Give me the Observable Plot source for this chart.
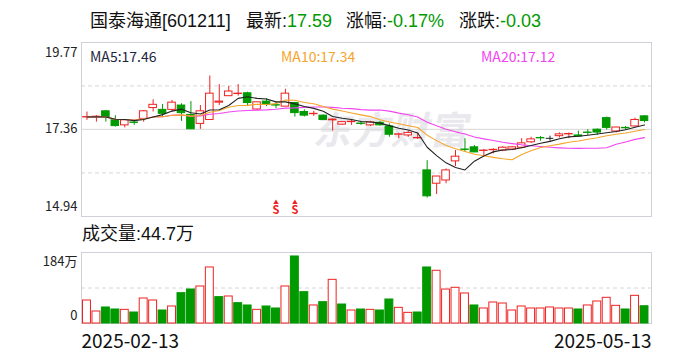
<!DOCTYPE html>
<html><head><meta charset="utf-8">
<script src="https://cdn.jsdelivr.net/npm/d3@7"></script>
<script src="https://cdn.jsdelivr.net/npm/@observablehq/plot@0.6"></script>
<style>
body{margin:0;background:#fff;font-family:"Noto Sans CJK SC","Noto Sans",sans-serif;}
#wrap{position:relative;width:688px;height:360px;overflow:hidden;background:#fff;}
.t{position:absolute;white-space:nowrap;line-height:20px;}
.hd{font-family:"Liberation Sans","Noto Sans CJK SC",sans-serif;}
.abs{position:absolute;left:0;}
</style></head><body><div id="wrap"></div>
<script>
// ---- data ----
const stockName = "国泰海通[601211]";
const dates = ["2025-02-13","2025-02-14","2025-02-17","2025-02-18","2025-02-19","2025-02-20","2025-02-21","2025-02-24","2025-02-25","2025-02-26","2025-02-27","2025-02-28",
"2025-03-03","2025-03-04","2025-03-05","2025-03-06","2025-03-07","2025-03-10","2025-03-11","2025-03-12","2025-03-13","2025-03-14","2025-03-17","2025-03-18","2025-03-19","2025-03-20","2025-03-21","2025-03-24","2025-03-25","2025-03-26","2025-03-27","2025-03-28","2025-03-31",
"2025-04-01","2025-04-02","2025-04-03","2025-04-07","2025-04-08","2025-04-09","2025-04-10","2025-04-11","2025-04-14","2025-04-15","2025-04-16","2025-04-17","2025-04-18","2025-04-21","2025-04-22","2025-04-23","2025-04-24","2025-04-25","2025-04-28","2025-04-29","2025-04-30",
"2025-05-06","2025-05-07","2025-05-08","2025-05-09","2025-05-12","2025-05-13"];
const open = [17.69,17.70,17.86,17.61,17.47,17.55,17.65,17.95,17.90,17.90,
18.02,17.76,17.51,17.62,18.10,18.28,18.34,18.36,17.91,18.13,
18.03,17.99,18.09,17.84,17.78,17.74,17.61,17.49,17.56,17.52,
17.47,17.54,17.44,17.21,17.19,17.11,16.22,15.85,15.94,16.47,
16.80,16.86,16.76,16.78,16.77,16.80,16.85,17.00,17.12,17.11,
17.17,17.22,17.19,17.27,17.35,17.67,17.30,17.40,17.44,17.72];
const close = [17.70,17.71,17.70,17.45,17.61,17.54,17.86,18.04,17.79,18.10,
17.81,17.36,17.86,18.35,18.13,18.41,18.35,18.09,18.11,18.04,
18.02,18.35,17.81,17.74,17.79,17.62,17.63,17.56,17.57,17.51,
17.55,17.47,17.21,17.22,17.26,17.12,15.50,16.05,16.22,16.60,
16.79,16.72,16.77,16.79,16.85,16.86,16.97,17.08,17.11,17.11,
17.22,17.23,17.16,17.26,17.27,17.40,17.41,17.39,17.62,17.59];
const high = [17.84,17.74,17.88,17.74,17.61,17.61,17.88,18.18,18.05,18.16,
18.07,18.13,18.02,18.84,18.60,18.55,18.60,18.39,18.11,18.21,
18.11,18.47,18.11,17.90,17.86,17.76,17.65,17.58,17.61,17.58,
17.58,17.58,17.51,17.25,17.30,17.25,16.49,16.05,16.26,16.77,
17.10,16.91,16.80,16.82,16.88,16.88,17.10,17.14,17.16,17.17,
17.26,17.26,17.31,17.35,17.37,17.70,17.42,17.44,17.67,17.74];
const low = [17.61,17.56,17.56,17.42,17.40,17.47,17.56,17.84,17.70,17.84,
17.58,17.36,17.36,17.62,18.02,18.27,18.28,17.99,17.88,17.99,
17.93,17.99,17.70,17.70,17.72,17.61,17.31,17.47,17.47,17.47,
17.44,17.45,17.14,17.10,17.14,17.08,15.45,15.55,15.85,16.33,
16.72,16.71,16.63,16.68,16.74,16.77,16.82,16.97,17.03,17.03,
17.12,17.10,17.14,17.19,17.19,17.34,17.26,17.33,17.42,17.54];
// volume in 万 (10k)
const volume = [59.6,31.1,41.5,36.3,35.4,28.5,64.8,59.6,33.7,44.1,
78.6,88.1,95.9,145.2,68.3,70.0,52.7,46.7,35.4,44.1,
38.9,95.9,173.7,81.2,46.7,55.3,113.2,49.2,33.7,36.3,
35.4,33.7,62.2,40.6,27.6,28.5,145.2,136.6,88.0,92.5,
77.8,46.7,38.9,54.4,51.8,33.7,44.1,38.9,38.9,41.5,
38.9,38.9,36.3,46.7,57.0,66.6,45.8,36.3,71.7,44.7];
const maNames = ["MA5","MA10","MA20"];
const maPeriods = [5,10,20];
const maReadout = [17.46,17.34,17.12];
const priceTicks = [14.94,17.36,19.77];
const volTicks = [0,184];
const volTickLabels = ["0","184万"];
const signalDates = ["2025-03-13","2025-03-17"];

// ---- styles ----
const RED = "#ee2222", GREEN = "#009900", BLACK = "#222222";
const maColors = ["#222222","#f5a52a","#f245f2"];
const FONT = '"Noto Sans CJK SC","Noto Sans",sans-serif';

const rows = dates.map((d,i)=>{
  const o=open[i], c=close[i], prev = i>0?close[i-1]:o;
  const col = c>o?RED : c<o?GREEN : (c>prev?RED : c<prev?GREEN : BLACK);
  const vcol = (i===0 || c>=close[i-1]) ? RED : GREEN;
  return {i, date:d, o, c, h:high[i], l:low[i], v:volume[i], col, vcol,
          fill: col===RED ? "#ffffff" : col};
});
const maSeries = maPeriods.map((k,j)=> close.map((_,i)=>({
  i, ma: d3.mean(close.slice(Math.max(0,i-k+1), i+1)), name: maNames[j]})));
const signals = signalDates.map(d=>dates.indexOf(d));

const xScale = {type:"linear", domain:[-0.58, 59.74], axis:null};
const common = {width:688, marginLeft:81, marginRight:37, style:{background:"transparent", overflow:"visible", fontFamily:FONT}};
const gridC = "#d6d6d6", frameC = "#d0d0d8";

const wrap = document.getElementById("wrap");
function addText(html, left, top, size, extra, cls){
  const el = document.createElement("div");
  el.className="t" + (cls?(" "+cls):""); el.innerHTML = html;
  el.style.left = left+"px"; el.style.top = top+"px"; el.style.fontSize = size+"px";
  if (extra) Object.assign(el.style, extra);
  wrap.appendChild(el); return el;
}

// watermark
addText("东方财富", 316, 106, 38, {color:"#e9e9ed", fontWeight:"bold", transform:"skewX(-12deg)", letterSpacing:"1px", lineHeight:"44px"});

// price panel
const price = Plot.plot({
  ...common, height:180, marginTop:2, marginBottom:4,
  x: xScale,
  y: {domain:[priceTicks[0], priceTicks[2]], axis:null},
  marks: [
    Plot.ruleY([(priceTicks[1]+priceTicks[2])/2, (priceTicks[0]+priceTicks[1])/2], {stroke:gridC, strokeDasharray:"4,3"}),
    Plot.ruleY([priceTicks[1]], {stroke:gridC}),
    Plot.frame({stroke:frameC}),
    Plot.text([priceTicks[2]], {y:d=>d, text:d=>d.toFixed(2), frameAnchor:"left", textAnchor:"end", lineAnchor:"middle", dx:-4, dy:10, fontSize:13, fill:"#222"}),
    Plot.text([priceTicks[1]], {y:d=>d, text:d=>d.toFixed(2), frameAnchor:"left", textAnchor:"end", lineAnchor:"middle", dx:-4, fontSize:13, fill:"#222"}),
    Plot.text([priceTicks[0]], {y:d=>d, text:d=>d.toFixed(2), frameAnchor:"left", textAnchor:"end", lineAnchor:"middle", dx:-4, dy:-10, fontSize:13, fill:"#222"}),
    Plot.ruleX(rows, {x:"i", y1:"l", y2:"h", stroke:"col", strokeWidth:1}),
    Plot.rect(rows.filter(d=>d.o!==d.c), {x1:d=>d.i-0.4, x2:d=>d.i+0.4, y1:"o", y2:"c", fill:"fill", stroke:"col", strokeWidth:1}),
    Plot.ruleY(rows.filter(d=>d.o===d.c), {y:"c", x1:d=>d.i-0.4, x2:d=>d.i+0.4, stroke:"col"}),
    ...maSeries.slice().reverse().map((s,k)=>Plot.line(s, {x:"i", y:"ma", stroke:maColors[2-k], strokeWidth:1.1})),
    Plot.text(signals, {x:d=>d, text:()=>"S", frameAnchor:"bottom", lineAnchor:"middle", dy:-6, fill:RED, fontSize:11, fontWeight:"bold"}),
    Plot.dot(signals, {x:d=>d, frameAnchor:"bottom", dy:-14, symbol:"triangle", r:2, fill:RED, stroke:null})
  ]
});
price.classList.add("abs"); price.style.top = "40px";
wrap.appendChild(price);

// volume panel
const vol = Plot.plot({
  ...common, height:110, marginTop:2, marginBottom:37,
  x: xScale,
  y: {domain:[volTicks[0], volTicks[1]], axis:null},
  marks: [
    Plot.ruleY([(volTicks[0]+volTicks[1])/2], {stroke:gridC, strokeDasharray:"4,3"}),
    Plot.frame({stroke:frameC}),
    Plot.rect(rows, {x1:d=>d.i-0.42, x2:d=>d.i+0.42, y1:0, y2:"v", fill:d=>d.vcol===RED?"#ffffff":GREEN, stroke:"vcol", strokeWidth:1}),
    Plot.text([1], {text:()=>volTickLabels[1], frameAnchor:"top-left", textAnchor:"end", lineAnchor:"middle", dx:-4, dy:9, fontSize:13, fill:"#222"}),
    Plot.text([0], {text:()=>volTickLabels[0], frameAnchor:"bottom-left", textAnchor:"end", lineAnchor:"middle", dx:-4, dy:-8, fontSize:13, fill:"#222"}),
    Plot.text([dates[0]], {text:d=>d, frameAnchor:"bottom-left", textAnchor:"start", lineAnchor:"middle", dy:18, fontSize:19, fill:"#111"}),
    Plot.text([dates[dates.length-1]], {text:d=>d, frameAnchor:"bottom-right", textAnchor:"end", lineAnchor:"middle", dy:18, fontSize:19, fill:"#111"})
  ]
});
vol.classList.add("abs"); vol.style.top = "250px";
wrap.appendChild(vol);

// header texts
const last = close[close.length-1], prevC = close[close.length-2];
const chg = last - prevC, pct = chg/prevC*100;
const gc = chg<0?GREEN:RED;
const sgn = v => (v>0?"+":"") + v;
addText(stockName, 90, 11, 18, {color:"#111"}, "hd");
addText(`最新:<span style="color:${gc}">${last.toFixed(2)}</span>`, 246, 11, 18, {color:"#111"}, "hd");
addText(`涨幅:<span style="color:${gc}">${sgn(pct.toFixed(2))}%</span>`, 346, 11, 18, {color:"#111"}, "hd");
addText(`涨跌:<span style="color:${gc}">${sgn(chg.toFixed(2))}</span>`, 459, 11, 18, {color:"#111"}, "hd");

const maLeft = [90, 281, 481];
maNames.forEach((n,j)=> addText(`${n}:${maReadout[j].toFixed(2)}`, maLeft[j], 46, 14, {color: j===0?"#1e2640":maColors[j]}));

addText(`成交量:${volume[volume.length-1]}万`, 82, 224, 18, {color:"#111"}, "hd");
</script></body></html>
